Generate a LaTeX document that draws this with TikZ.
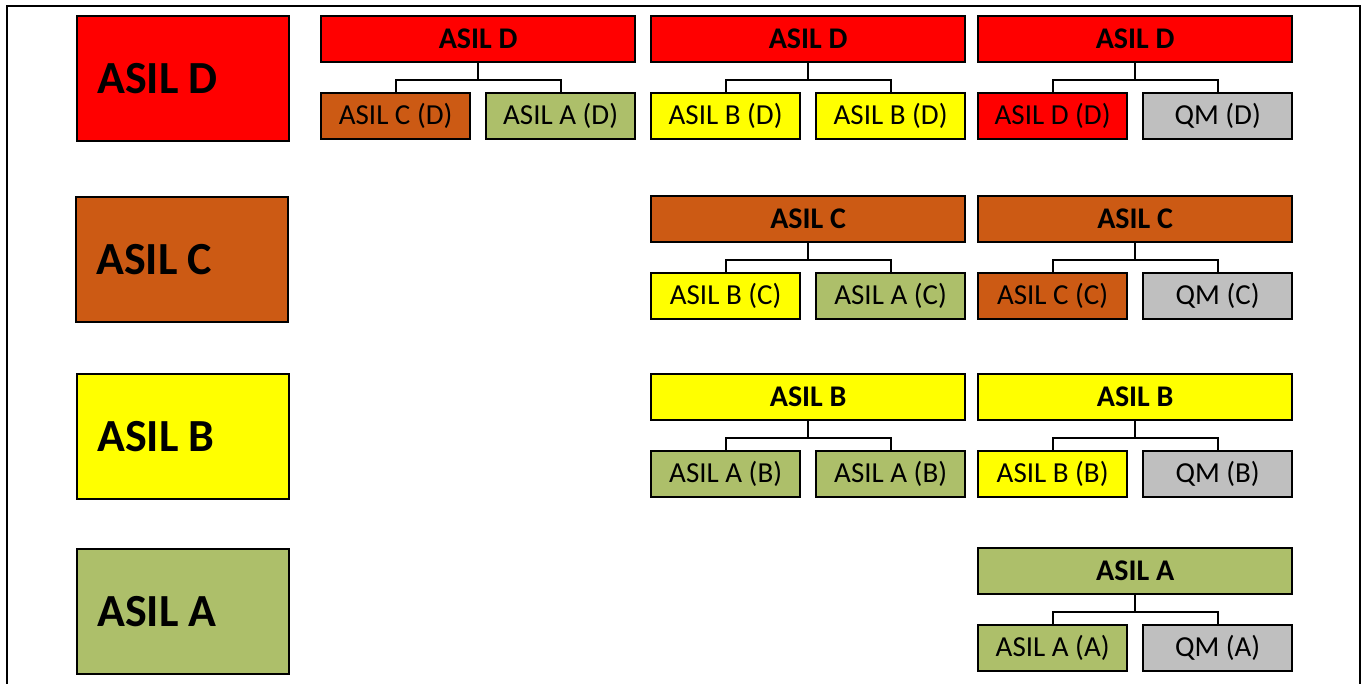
\documentclass[tikz,border=0pt]{standalone}
\usepackage{fontspec}
\setmainfont{Carlito}
\definecolor{asilD}{RGB}{255,0,0}
\definecolor{asilC}{RGB}{204,90,20}
\definecolor{asilB}{RGB}{255,255,0}
\definecolor{asilA}{RGB}{173,191,106}
\definecolor{qmgray}{RGB}{191,191,191}
\tikzset{
 box/.style={draw=black, line width=2.3pt, inner sep=0pt, anchor=north west},
 parentbox/.style={box, minimum width=314pt, minimum height=46pt, font=\fontsize{30}{30}\selectfont\bfseries},
 childbox/.style={box, minimum width=149pt, minimum height=46pt, font=\fontsize{29}{29}\selectfont},
 bigbox/.style={box, minimum width=212pt, minimum height=125pt, text width=172pt, inner xsep=20pt, align=flush left, font=\fontsize{46}{46}\selectfont\bfseries},
 link/.style={draw=black, line width=2pt},
 frameline/.style={draw=black, line width=2.5pt}
}
\newcommand{\asilgroup}[9]{%
  \node[parentbox, fill=#4] (#1p) at (#2+1,#3+1) {#5};
  \node[childbox, fill=#6] (#1a) at (#2+1,#3+78) {#7};
  \node[childbox, fill=#8] (#1b) at (#2+166,#3+78) {#9};
  \draw[link] (#1p.south) -- ++(0,17) coordinate (#1m);
  \draw[link] (#1a.north) |- (#1m) -| (#1b.north);
}
\begin{document}
\begin{tikzpicture}[x=1pt,y=-1pt]
\useasboundingbox (0,0) rectangle (1368,684);
\draw[frameline] (7,700) -- (7,6) -- (1360,6) -- (1360,700);
% big level boxes
\node[bigbox, fill=asilD] (bigD) at (76,15) {ASIL D};
\node[bigbox, fill=asilC] (bigC) at (75,196) {ASIL C};
\node[bigbox, fill=asilB] (bigB) at (76,373) {ASIL B};
\node[bigbox, fill=asilA] (bigA) at (76,548) {ASIL A};
% decomposition groups
\asilgroup{da}{319}{14}{asilD}{ASIL D}{asilC}{ASIL C (D)}{asilA}{ASIL A (D)}
\asilgroup{db}{649}{14}{asilD}{ASIL D}{asilB}{ASIL B (D)}{asilB}{ASIL B (D)}
\asilgroup{dc}{976}{14}{asilD}{ASIL D}{asilD}{ASIL D (D)}{qmgray}{QM (D)}
\asilgroup{cb}{649}{194}{asilC}{ASIL C}{asilB}{ASIL B (C)}{asilA}{ASIL A (C)}
\asilgroup{cc}{976}{194}{asilC}{ASIL C}{asilC}{ASIL C (C)}{qmgray}{QM (C)}
\asilgroup{bb}{649}{372}{asilB}{ASIL B}{asilA}{ASIL A (B)}{asilA}{ASIL A (B)}
\asilgroup{bc}{976}{372}{asilB}{ASIL B}{asilB}{ASIL B (B)}{qmgray}{QM (B)}
\asilgroup{ac}{976}{546}{asilA}{ASIL A}{asilA}{ASIL A (A)}{qmgray}{QM (A)}
\end{tikzpicture}
\end{document}
